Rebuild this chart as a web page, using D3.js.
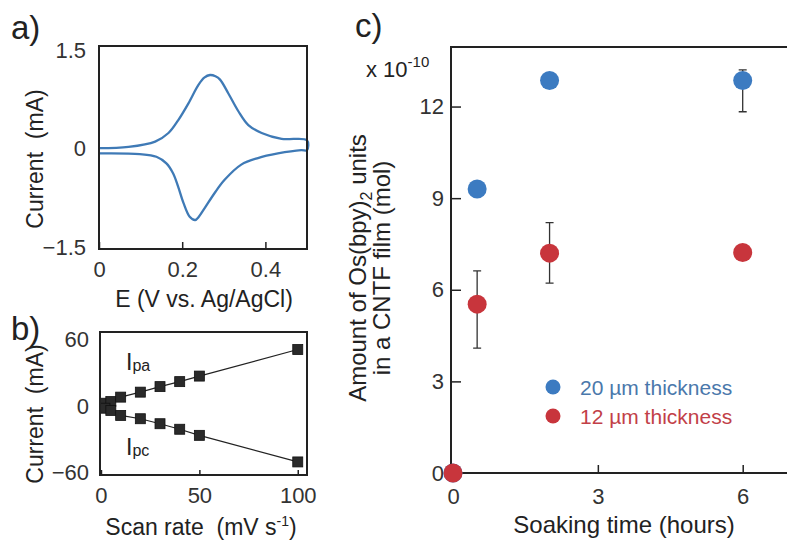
<!DOCTYPE html>
<html>
<head>
<meta charset="utf-8">
<script src="https://cdn.jsdelivr.net/npm/d3@7"></script>
<style>
  body { margin: 0; background: #fff; }
  svg { font-family: "Liberation Sans", Arial, Helvetica, sans-serif; }
  text { white-space: pre; }
  .tick text { fill: #333; }
</style>
</head>
<body>
<svg id="fig" width="787" height="540"></svg>
<script>
// ---- data ----
// a) cyclic voltammogram
var cvFwdE = [0, 0.071, 0.135, 0.167, 0.191, 0.215, 0.239, 0.253, 0.267, 0.28, 0.291, 0.311, 0.335, 0.359, 0.391, 0.439, 0.5];
var cvFwdI = [0.01, 0.03, 0.11, 0.24, 0.44, 0.69, 0.97, 1.08, 1.12, 1.10, 1.05, 0.84, 0.57, 0.36, 0.24, 0.15, 0.13];
var cvRevE = [0.5, 0.486, 0.43, 0.382, 0.342, 0.302, 0.278, 0.254, 0.24, 0.231, 0.218, 0.203, 0.19, 0.178, 0.162, 0.138, 0.098, 0];
var cvRevI = [-0.02, -0.02, -0.07, -0.14, -0.24, -0.47, -0.67, -0.90, -1.03, -1.08, -1.03, -0.82, -0.57, -0.37, -0.22, -0.12, -0.08, -0.07];

// b) peak currents vs scan rate
var scanRate = [2, 5, 10, 20, 30, 40, 50, 100];
var ipa = [2.5, 4, 8, 12.5, 17.5, 22, 27, 51];
var ipc = [-2, -4, -8.5, -11.5, -16, -21, -26.5, -50.5];

// c) amount of Os(bpy)2 units vs soaking time (x 10^-10 mol)
var soakTime = [0, 0.5, 2, 6];
var amount20 = [0, 9.3, 12.85, 12.85];
var low20 = [null, null, null, 11.83];
var high20 = [null, null, null, 13.2];
var amount12 = [0, 5.53, 7.2, 7.22];
var low12 = [null, 4.09, 6.22, null];
var high12 = [null, 6.62, 8.2, null];
var seriesNames = ["20 \u00b5m thickness", "12 \u00b5m thickness"];

var svg = d3.select("#fig");
var ink = "#222";
var blue = "#3c7bc1", red = "#c8353c";

function frame(x0, y0, x1, y1) {
    svg.append("rect")
        .attr("x", x0).attr("y", y0)
        .attr("width", x1 - x0).attr("height", y1 - y0)
        .attr("fill", "none").attr("stroke", ink).attr("stroke-width", 2);
}

function styleAxis(g) {
    g.select(".domain").remove();
    g.selectAll(".tick line").attr("stroke", ink).attr("stroke-width", 1.5);
    g.selectAll(".tick text").attr("font-size", 22).attr("font-family", null);
}

// ---------- panel a ----------
var xa = d3.scaleLinear().domain([0, 0.5]).range([99, 307]);
var ya = d3.scaleLinear().domain([-1.52, 1.56]).range([249, 46]);

svg.append("text").attr("x", 11).attr("y", 39).attr("font-size", 33).attr("fill", ink).text("a)");

var cvLine = d3.line()
    .x(function(d){ return xa(d[0]); })
    .y(function(d){ return ya(d[1]); })
    .curve(d3.curveCatmullRom);

var fwd = cvFwdE.map(function(e, i){ return [e, cvFwdI[i]]; });
var rev = cvRevE.map(function(e, i){ return [e, cvRevI[i]]; });

svg.append("path").attr("d", cvLine(fwd.concat(rev)))
    .attr("fill", "none").attr("stroke", "#3f7ab6").attr("stroke-width", 2.3);

svg.append("g").attr("transform", "translate(0,249)")
    .call(d3.axisBottom(xa).tickValues([0, 0.2, 0.4]).tickSize(-7).tickPadding(12)
        .tickFormat(function(d){ return d === 0 ? "0" : d3.format(".1f")(d); }))
    .call(styleAxis);
svg.append("g").attr("transform", "translate(99,0)")
    .call(d3.axisLeft(ya).tickValues([-1.5, 0, 1.5]).tickSize(0).tickPadding(13)
        .tickFormat(function(d){ return d === 0 ? "0" : d3.format(".1f")(d); }))
    .call(styleAxis);
frame(99, 46, 307, 249);

svg.append("text").attr("x", 204).attr("y", 307).attr("text-anchor", "middle")
    .attr("font-size", 23).attr("fill", ink).text("E (V vs. Ag/AgCl)");
svg.append("text").attr("transform", "translate(43,159) rotate(-90)").attr("text-anchor", "middle")
    .attr("font-size", 23).attr("fill", ink).text("Current  (mA)");

// ---------- panel b ----------
var xb = d3.scaleLinear().domain([-0.5, 104.7]).range([100, 307]);
var yb = d3.scaleLinear().domain([-62.3, 66.8]).range([475, 332]);

svg.append("text").attr("x", 11).attr("y", 340).attr("font-size", 33).attr("fill", ink).text("b)");

var fitLine = d3.line()
    .x(function(d){ return xb(d[0]); })
    .y(function(d){ return yb(d[1]); });

[ipa, ipc].forEach(function(vals){
    var pts = scanRate.map(function(s, i){ return [s, vals[i]]; });
    svg.append("path").attr("d", fitLine(pts))
        .attr("fill", "none").attr("stroke", ink).attr("stroke-width", 1.2);
    svg.selectAll(null).data(pts).enter().append("rect")
        .attr("x", function(d){ return xb(d[0]) - 5; })
        .attr("y", function(d){ return yb(d[1]) - 5; })
        .attr("width", 10).attr("height", 10)
        .attr("fill", "#2a2a2a").attr("stroke", "#111").attr("stroke-width", 0.8);
});

svg.append("g").attr("transform", "translate(0,475)")
    .call(d3.axisBottom(xb).tickValues([0, 50, 100]).tickSize(-5).tickPadding(12))
    .call(styleAxis);
svg.append("g").attr("transform", "translate(100,0)")
    .call(d3.axisLeft(yb).tickValues([-60, 0, 60]).tickSize(0).tickPadding(11))
    .call(styleAxis);
frame(100, 332, 307, 475);

var lpa = svg.append("text").attr("x", 126).attr("y", 370).attr("font-size", 23).attr("fill", ink);
lpa.append("tspan").text("I");
lpa.append("tspan").attr("font-size", 16).attr("dy", 1).text("pa");
var lpc = svg.append("text").attr("x", 126).attr("y", 455).attr("font-size", 23).attr("fill", ink);
lpc.append("tspan").text("I");
lpc.append("tspan").attr("font-size", 16).attr("dy", 1).text("pc");

var sl = svg.append("text").attr("x", 201).attr("y", 535).attr("text-anchor", "middle")
    .attr("font-size", 23).attr("fill", ink);
sl.append("tspan").text("Scan rate  (mV s");
sl.append("tspan").attr("font-size", 14).attr("dy", -9).text("-1");
sl.append("tspan").attr("dy", 9).text(")");
svg.append("text").attr("transform", "translate(43,414) rotate(-90)").attr("text-anchor", "middle")
    .attr("font-size", 23).attr("fill", ink).text("Current  (mA)");

// ---------- panel c ----------
var xc = d3.scaleLinear().domain([0, 6]).range([453, 742.7]);
var yc = d3.scaleLinear().domain([0, 13.95]).range([473, 47]);

svg.append("text").attr("x", 355).attr("y", 37).attr("font-size", 33).attr("fill", ink).text("c)");

svg.append("g").attr("transform", "translate(0,473)")
    .call(d3.axisBottom(xc).tickValues([0, 3, 6]).tickSize(-8).tickPadding(15).tickFormat(d3.format("d")))
    .call(styleAxis);
svg.append("g").attr("transform", "translate(451,0)")
    .call(d3.axisLeft(yc).tickValues([0, 3, 6, 9, 12]).tickSize(-10).tickPadding(7).tickFormat(d3.format("d")))
    .call(styleAxis);
svg.append("path").attr("d", "M451,47H787M451,46V474M451,473H787")
    .attr("fill", "none").attr("stroke", ink).attr("stroke-width", 2);

var mult = svg.append("text").attr("x", 366).attr("y", 77).attr("font-size", 22).attr("fill", ink);
mult.append("tspan").text("x 10");
mult.append("tspan").attr("font-size", 15).attr("dy", -10).text("-10");

function errorBars(lo, hi) {
    soakTime.forEach(function(t, i){
        if (lo[i] === null) return;
        var cx = xc(t);
        svg.append("path")
            .attr("d", "M" + cx + "," + yc(lo[i]) + "V" + yc(hi[i]) +
                       "M" + (cx - 4) + "," + yc(lo[i]) + "H" + (cx + 4) +
                       "M" + (cx - 4) + "," + yc(hi[i]) + "H" + (cx + 4))
            .attr("fill", "none").attr("stroke", "#333").attr("stroke-width", 1.3);
    });
}
errorBars(low20, high20);
errorBars(low12, high12);

function dots(vals, color) {
    svg.selectAll(null).data(soakTime).enter().append("circle")
        .attr("cx", function(d){ return xc(d); })
        .attr("cy", function(d, i){ return yc(vals[i]); })
        .attr("r", 9.5).attr("fill", color);
}
dots(amount20, blue);
dots(amount12, red);

// legend
var legColors = [blue, red], legText = ["#4a78ab", "#c23f48"];
seriesNames.forEach(function(name, i){
    var y = 387 + i * 29;
    svg.append("circle").attr("cx", 553).attr("cy", y).attr("r", 7.5).attr("fill", legColors[i]);
    svg.append("text").attr("x", 580).attr("y", y + 8).attr("font-size", 21)
        .attr("fill", legText[i]).text(name);
});

svg.append("text").attr("x", 624).attr("y", 533).attr("text-anchor", "middle")
    .attr("font-size", 24).attr("fill", ink).text("Soaking time (hours)");
var yt = svg.append("text").attr("transform", "translate(366,268) rotate(-90)")
    .attr("text-anchor", "middle").attr("font-size", 24).attr("fill", ink);
yt.append("tspan").text("Amount of Os(bpy)");
yt.append("tspan").attr("font-size", 16).attr("dy", 6).text("2");
yt.append("tspan").attr("dy", -6).text(" units");
svg.append("text").attr("transform", "translate(390,268) rotate(-90)")
    .attr("text-anchor", "middle").attr("font-size", 24).attr("fill", ink).text("in a CNTF film (mol)");
</script>
</body>
</html>
